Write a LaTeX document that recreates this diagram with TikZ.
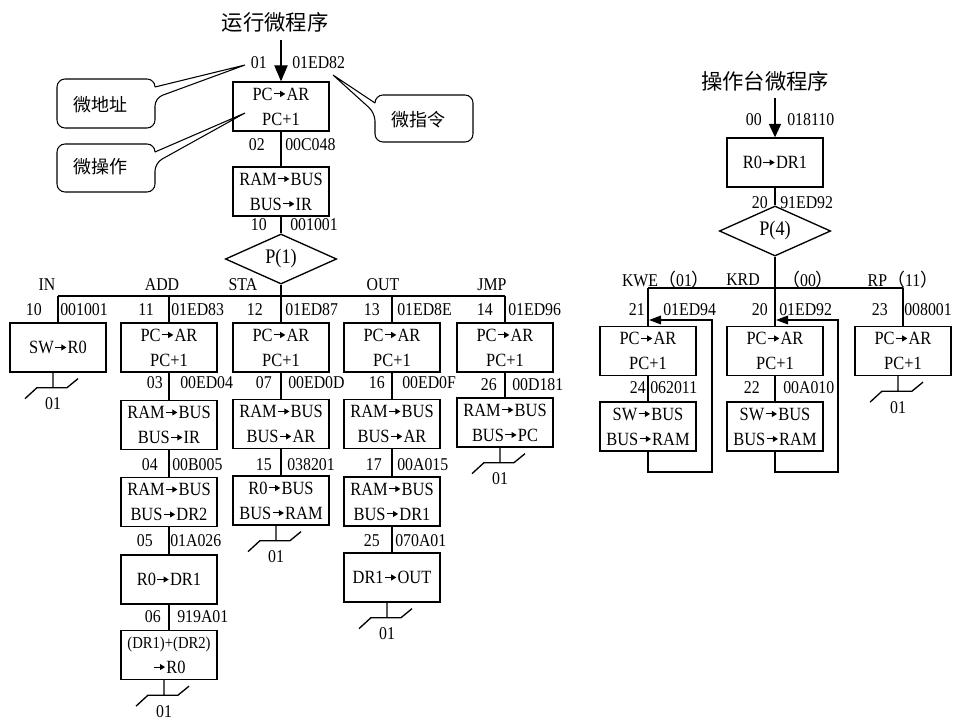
\documentclass[tikz,border=0pt]{standalone}
\usepackage{fontspec}
\setmainfont{Liberation Serif}[FakeStretch=0.88]
\newfontfamily\cjk{Noto Sans CJK SC}
\usetikzlibrary{arrows.meta,shapes.geometric}

% small solid arrow used inside the register-transfer texts
\newcommand\mvto{\kern0.6pt\tikz[baseline=-4.6pt]\draw[line width=0.75pt,-{Triangle[length=3.8pt,width=4.4pt]}] (0pt,0pt) -- (8.5pt,0pt);\kern0.6pt}

\tikzset{
  link/.style={line width=1pt},
  rt/.style={draw, line width=1pt, minimum width=72pt, minimum height=36.75pt,
    inner sep=0pt, align=center, font=\fontsize{14}{18.75}\selectfont},
  tag/.style={inner sep=0pt, font=\fontsize{13.5}{15}\selectfont},
  adr/.style={tag, anchor=east},
  code/.style={tag, anchor=west},
  branch/.style={draw, diamond, line width=1pt, minimum width=83.5pt,
    minimum height=35pt, inner sep=0pt, font=\fontsize{15.5}{17}\selectfont},
  head/.style={inner sep=0pt, font=\cjk\fontsize{16}{18}\selectfont},
  note/.style={inner sep=0pt, font=\cjk\fontsize{13.5}{16}\selectfont},
  bubble/.style={line width=0.8pt},
  bigtip/.style={-{Triangle[length=12pt,width=10pt]}},
  midtip/.style={-{Triangle[length=10pt,width=9pt]}},
  looptip/.style={-{Triangle[length=9pt,width=6.5pt]}},
  end01/.pic={
    \draw[link] (-5,0) -- (-5,15) (-33,26) -- (-21,15) -- (9,15) -- (20,6);
    \node[tag] (lbl) at (-5,31) {01};
  }
}

\begin{document}
\begin{tikzpicture}[x=0.75pt,y=-0.75pt]
\fill[white] (0,0) rectangle (960,720);
\useasboundingbox (0,0) rectangle (960,720);

% ---------------- run microprogram ----------------
\node[head] (t1) at (275,22) {运行微程序};
\coordinate (s1) at (281,40);
\node[rt] (m1) at (281,106.5) {PC\mvto AR\\PC+1};
\node[rt] (m2) at (281,191.5) {RAM\mvto BUS\\BUS\mvto IR};
\node[branch] (d1) at (281,259) {P(1)};
\draw[link,bigtip] (s1) -- (m1);
\draw[link] (m1) -- (m2);
\draw[link] (m2) -- (d1);

\node[adr] (a01) at (267,63) {01};   \node[code] (c01) at (292,63) {01ED82};
\node[adr] (a02) at (265,145) {02};  \node[code] (c02) at (285,145) {00C048};
\node[adr] (a10) at (267,225) {10};  \node[code] (c10) at (290,225) {001001};

% callouts
\draw[bubble,rounded corners=6pt] (155,87) -- (155,79) -- (57,79) -- (57,128) -- (155,128) -- (155,98) [sharp corners] -- (245,65) -- (155,87);
\node[note] (n1) at (100,105) {微地址};
\draw[bubble,rounded corners=6pt] (155,152) -- (155,144) -- (57,144) -- (57,192) -- (155,192) -- (155,163) [sharp corners] -- (245,113) -- (155,152);
\node[note] (n2) at (100,167) {微操作};
\draw[bubble,rounded corners=6pt] (375,103) -- (375,95) -- (473,95) -- (473,142) -- (375,142) -- (375,113) [sharp corners] -- (333,75) -- (375,103);
\node[note] (n3) at (418,120) {微指令};

% branch bus
\coordinate (bS) at (281,296);
\coordinate (bI) at (58,296);
\coordinate (bA) at (169,296);
\coordinate (bO) at (392,296);
\coordinate (bJ) at (505,296);
\draw[link] (d1) -- (bS);
\draw[link] (bI) -- (bJ);

\node[tag] (lIN)  at (47,285)  {IN};
\node[tag] (lADD) at (162,285) {ADD};
\node[tag] (lSTA) at (243,285) {STA};
\node[tag] (lOUT) at (383,285) {OUT};
\node[tag] (lJMP) at (492,285) {JMP};

% first row
\node[rt] (in1) at (58,347.5)  {SW\mvto R0};
\node[rt] (ad1) at (169,347.5) {PC\mvto AR\\PC+1};
\node[rt] (st1) at (281,347.5) {PC\mvto AR\\PC+1};
\node[rt] (ou1) at (392,347.5) {PC\mvto AR\\PC+1};
\node[rt] (jm1) at (505,347.5) {PC\mvto AR\\PC+1};
\draw[link] (bI) -- (in1);
\draw[link] (bA) -- (ad1);
\draw[link] (bS) -- (st1);
\draw[link] (bO) -- (ou1);
\draw[link] (bJ) -- (jm1);

\node[adr] (a10b) at (42,310)  {10}; \node[code] (c10b) at (60,310)  {001001};
\node[adr] (a11)  at (154,310) {11}; \node[code] (c11)  at (171,310) {01ED83};
\node[adr] (a12)  at (263,310) {12}; \node[code] (c12)  at (285,310) {01ED87};
\node[adr] (a13)  at (380,310) {13}; \node[code] (c13)  at (397,310) {01ED8E};
\node[adr] (a14)  at (493,310) {14}; \node[code] (c14)  at (508,310) {01ED96};

\pic (e1) at (in1.south) {end01};

% ADD
\node[rt] (ad2) at (169,425)   {RAM\mvto BUS\\BUS\mvto IR};
\node[rt] (ad3) at (169,502)   {RAM\mvto BUS\\BUS\mvto DR2};
\node[rt] (ad4) at (169,579.5) {R0\mvto DR1};
\node[rt] (ad5) at (169,655)   {{\fontsize{12.5}{13}\selectfont (DR1)+(DR2)}\\\mvto R0};
\draw[link] (ad1) -- (ad2);
\draw[link] (ad2) -- (ad3);
\draw[link] (ad3) -- (ad4);
\draw[link] (ad4) -- (ad5);
\node[adr] (a03) at (163,383) {03}; \node[code] (c03) at (180,383) {00ED04};
\node[adr] (a04) at (158,465) {04}; \node[code] (c04) at (172,465) {00B005};
\node[adr] (a05) at (153,541) {05}; \node[code] (c05) at (170,541) {01A026};
\node[adr] (a06) at (161,617) {06}; \node[code] (c06) at (177,617) {919A01};
\pic (e2) at (ad5.south) {end01};

% STA
\node[rt] (st2) at (281,424)   {RAM\mvto BUS\\BUS\mvto AR};
\node[rt] (st3) at (281,500.5) {R0\mvto BUS\\BUS\mvto RAM};
\draw[link] (st1) -- (st2);
\draw[link] (st2) -- (st3);
\node[adr] (a07) at (272,383) {07}; \node[code] (c07) at (288,383) {00ED0D};
\node[adr] (a15) at (272,465) {15}; \node[code] (c15) at (287,465) {038201};
\pic (e3) at (st3.south) {end01};

% OUT
\node[rt] (ou2) at (392,424)   {RAM\mvto BUS\\BUS\mvto AR};
\node[rt] (ou3) at (392,501.5) {RAM\mvto BUS\\BUS\mvto DR1};
\node[rt] (ou4) at (392,577.5) {DR1\mvto OUT};
\draw[link] (ou1) -- (ou2);
\draw[link] (ou2) -- (ou3);
\draw[link] (ou3) -- (ou4);
\node[adr] (a16) at (385,383) {16}; \node[code] (c16) at (402,383) {00ED0F};
\node[adr] (a17) at (382,465) {17}; \node[code] (c17) at (397,465) {00A015};
\node[adr] (a25) at (380,541) {25}; \node[code] (c25) at (395,541) {070A01};
\pic (e4) at (ou4.south) {end01};

% JMP
\node[rt] (jm2) at (505,422.5) {RAM\mvto BUS\\BUS\mvto PC};
\draw[link] (jm1) -- (jm2);
\node[adr] (a26) at (497,385) {26}; \node[code] (c26) at (512,385) {00D181};
\pic (e5) at (jm2.south) {end01};

% ---------------- console microprogram ----------------
\node[head] (t2) at (765,81) {操作台微程序};
\coordinate (s2) at (775,98);
\node[rt] (r0) at (775,162.5) {R0\mvto DR1};
\node[branch] (d2) at (775,231) {P(4)};
\draw[link,midtip] (s2) -- (r0);
\draw[link] (r0) -- (d2);
\node[adr] (a00) at (762,120) {00}; \node[code] (c00) at (787,120) {018110};
\node[adr] (a20) at (768,203) {20}; \node[code] (c20) at (780,203) {91ED92};

\coordinate (bK) at (648,288);
\coordinate (bD) at (775,288);
\coordinate (bR) at (903,288);
\draw[link] (d2) -- (bD);
\draw[link] (bK) -- (bR);

\node[tag] (lKWE) at (666,280) {KWE{\cjk （}01{\cjk ）}};
\node[tag] (lKRD) at (743,280) {KRD};
\node[tag] (lK00) at (808,280) {{\cjk （}00{\cjk ）}};
\node[tag] (lRP)  at (903,280) {RP{\cjk （}11{\cjk ）}};

\node[rt] (kw1) at (648,351)   {PC\mvto AR\\PC+1};
\node[rt] (kw2) at (648,426.5) {SW\mvto BUS\\BUS\mvto RAM};
\node[rt] (kr1) at (775,351)   {PC\mvto AR\\PC+1};
\node[rt] (kr2) at (775,426.5) {SW\mvto BUS\\BUS\mvto RAM};
\node[rt] (rp1) at (903,351)   {PC\mvto AR\\PC+1};
\draw[link] (bK) -- (kw1);
\draw[link] (bD) -- (kr1);
\draw[link] (bR) -- (rp1);
\draw[link] (kw1) -- (kw2);
\draw[link] (kr1) -- (kr2);
\pic (e6) at (rp1.south) {end01};

\node[adr] (a21) at (645,310) {21}; \node[code] (c21) at (663,310) {01ED94};
\node[adr] (a20b) at (768,310) {20}; \node[code] (c20b) at (779,310) {01ED92};
\node[adr] (a23) at (888,310) {23}; \node[code] (c23) at (904,310) {008001};
\node[adr] (a24) at (646,388) {24}; \node[code] (c24) at (650,388) {062011};
\node[adr] (a22) at (760,388) {22}; \node[code] (c22) at (783,388) {00A010};

% write loops back to the PC->AR step
\coordinate (kwc) at (712,472);
\coordinate (kwin) at (649,320);
\coordinate (krc) at (838,472);
\coordinate (krin) at (776,320);
\draw[link,looptip] (kw2) |- (kwc) |- (kwin);
\draw[link,looptip] (kr2) |- (krc) |- (krin);

\end{tikzpicture}
\end{document}
